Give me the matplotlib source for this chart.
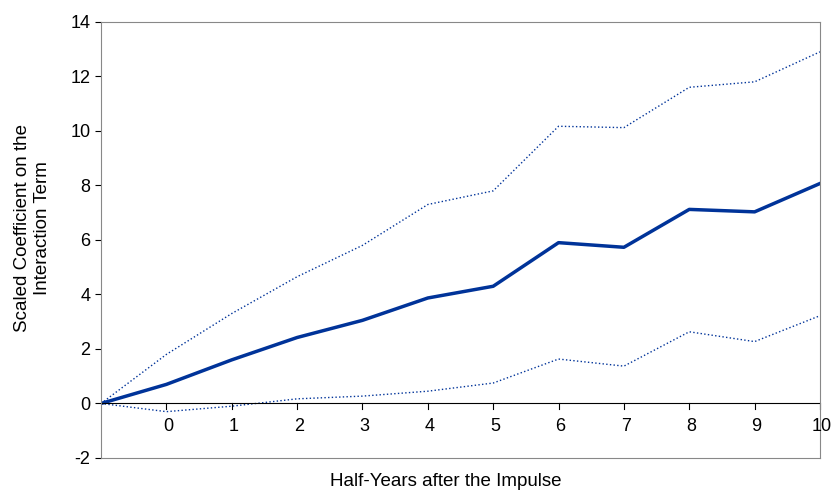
import matplotlib.pyplot as plt

# half-years after impulse (-1 is the origin point)
periods = [-1, 0, 1, 2, 3, 4, 5, 6, 7, 8, 9, 10]
coef = [0, 0.7, 1.6, 2.42, 3.05, 3.87, 4.3, 5.9, 5.73, 7.12, 7.03, 8.07]
upper = [0, 1.8, 3.3, 4.65, 5.8, 7.3, 7.8, 10.17, 10.12, 11.6, 11.8, 12.9]
lower = [0, -0.3, -0.1, 0.17, 0.27, 0.45, 0.75, 1.63, 1.37, 2.63, 2.27, 3.22]
tick_labels = [str(i) for i in range(0, 11)]

blue = '#003399'
plt.rcParams['font.family'] = ['Liberation Sans', 'DejaVu Sans']
plt.rcParams['axes.unicode_minus'] = False

fig = plt.figure(figsize=(8.35, 4.97), dpi=100)
ax = fig.add_axes([0.121, 0.0785, 0.861, 0.8775])

ax.plot(periods, coef, color=blue, lw=2.5)
ax.plot(periods, upper, color=blue, lw=1, ls=':')
ax.plot(periods, lower, color=blue, lw=1, ls=':')

ax.set_xlim(-1, 10)
ax.set_ylim(-2, 14)
ax.set_yticks(range(-2, 15, 2))
ax.tick_params(axis='y', labelsize=13, direction='out', length=4)
ax.set_xticks([])
for s in ax.spines.values():
    s.set_color('#888888')
    s.set_linewidth(0.8)

ax.axhline(0, color='black', lw=0.8)
for p, lab in zip(periods[1:], tick_labels):
    ax.plot([p, p], [0, -0.2], color='black', lw=0.8, clip_on=False)
    ax.text(p + 0.03, -0.55, lab, ha='center', va='top', fontsize=13)

ax.set_ylabel('Scaled Coefficient on the\nInteraction Term', fontsize=13.5)
ax.yaxis.set_label_coords(-0.07, 0.527)
fig.text(0.534, 0.022, 'Half-Years after the Impulse', ha='center', fontsize=13.5)

fig.savefig('out.png', dpi=100)
